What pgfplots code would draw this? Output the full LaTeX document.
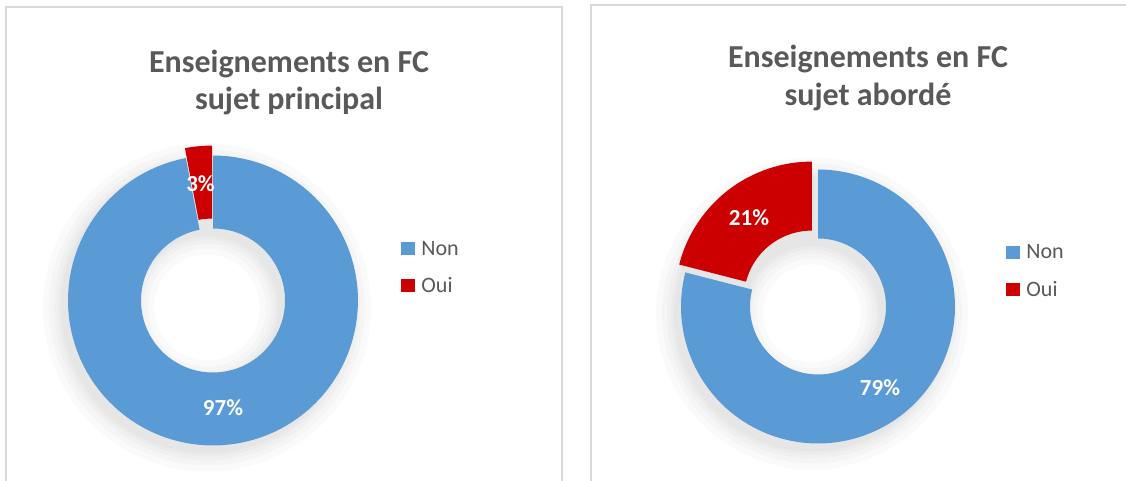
\documentclass[border=0pt]{standalone}
\usepackage{fontspec}
\setmainfont{Carlito}
\usepackage{pgfplots}
\pgfplotsset{compat=1.18}
\usepgfplotslibrary{fillbetween}

\definecolor{nonblue}{HTML}{5B9BD5}
\definecolor{ouired}{HTML}{CC0000}
\definecolor{txtgrey}{HTML}{595959}
\definecolor{framegrey}{HTML}{D9D9D9}

% one ring segment: name, cx, cy, R, r, from angle, to angle, colour
\newcommand{\ringslice}[8]{%
  \addplot[draw=none, name path=#1o, domain=#6:#7, samples=120, variable=\t]
    ({#2+#4*cos(t)}, {#3-#4*sin(t)});
  \addplot[draw=none, name path=#1i, domain=#6:#7, samples=120, variable=\t]
    ({#2+#5*cos(t)}, {#3-#5*sin(t)});
  \addplot[fill=#8, draw=none] fill between[of=#1o and #1i];
}
% soft shadow layer: name, cx, cy, R, r
\newcommand{\ringshadow}[5]{%
  \addplot[draw=none, name path=#1o, domain=0:360, samples=90, variable=\t]
    ({#2+#4*cos(t)}, {#3-#4*sin(t)});
  \addplot[draw=none, name path=#1i, domain=0:360, samples=90, variable=\t]
    ({#2+#5*cos(t)}, {#3-#5*sin(t)});
  \addplot[fill=black, fill opacity=0.018, draw=none] fill between[of=#1o and #1i];
}

\begin{document}
\begin{tikzpicture}
\begin{axis}[
    width=563pt, height=240.5pt, scale only axis,
    xmin=0, xmax=1126, ymin=0, ymax=481,
    y dir=reverse,
    hide axis,
]
% panel frames
\draw[framegrey, line width=0.8pt] (axis cs:6,481) -- (axis cs:6,7) -- (axis cs:562,7) -- (axis cs:562,481);
\draw[framegrey, line width=0.8pt] (axis cs:591,481) -- (axis cs:591,5) -- (axis cs:1126,5);

% shadows (offset to lower left)
\ringshadow{sa1}{207}{307.5}{146}{71}
\ringshadow{sa2}{207}{307.5}{149}{68}
\ringshadow{sa3}{207}{307.5}{153}{64}
\ringshadow{sa4}{207}{307.5}{158}{59}
\ringshadow{sa5}{207}{307.5}{164}{53}
\ringshadow{sc1}{812}{313.5}{138}{67}
\ringshadow{sc2}{812}{313.5}{141}{64}
\ringshadow{sc3}{812}{313.5}{145}{60}
\ringshadow{sc4}{812}{313.5}{150}{55}
\ringshadow{sc5}{812}{313.5}{156}{49}

% left donut: Non 97, Oui 3 (Oui pulled out)
\ringslice{a}{213}{300.5}{145}{72}{90-3.6*97}{90}{nonblue}
\ringslice{b}{212.1}{290.6}{145}{72}{90}{90+3.6*3}{ouired}

% right donut: Non 79, Oui 21 (Oui pulled out)
\ringslice{c}{818}{306.5}{137}{68}{90-3.6*79}{90}{nonblue}
\ringslice{d}{811.9}{298.6}{137}{68}{90}{90+3.6*21}{ouired}

% slice labels
\node[white, font=\bfseries\fontsize{11.5}{13}\selectfont] at (axis cs:223,408) {97\%};
\node[white, font=\bfseries\fontsize{11.5}{13}\selectfont] at (axis cs:200.5,184) {3\%};
\node[white, font=\bfseries\fontsize{11.5}{13}\selectfont] at (axis cs:880,388) {79\%};
\node[white, font=\bfseries\fontsize{11.5}{13}\selectfont] at (axis cs:749,218) {21\%};

% titles
\node[txtgrey, font=\bfseries\fontsize{16}{19}\selectfont, anchor=base] at (axis cs:289,73) {Enseignements en FC};
\node[txtgrey, font=\bfseries\fontsize{16}{19}\selectfont, anchor=base] at (axis cs:289,110) {sujet principal};
\node[txtgrey, font=\bfseries\fontsize{16}{19}\selectfont, anchor=base] at (axis cs:868,68) {Enseignements en FC};
\node[txtgrey, font=\bfseries\fontsize{16}{19}\selectfont, anchor=base] at (axis cs:868,106) {sujet abordé};

% legends
\fill[nonblue] (axis cs:401,242) rectangle (axis cs:415,255);
\fill[ouired] (axis cs:401,279.5) rectangle (axis cs:415,292.5);
\node[txtgrey, font=\fontsize{11}{13}\selectfont, anchor=base west, inner sep=0pt] at (axis cs:421,256) {Non};
\node[txtgrey, font=\fontsize{11}{13}\selectfont, anchor=base west, inner sep=0pt] at (axis cs:421,293) {Oui};
\fill[nonblue] (axis cs:1006,246) rectangle (axis cs:1020,259);
\fill[ouired] (axis cs:1006,283.5) rectangle (axis cs:1020,296.5);
\node[txtgrey, font=\fontsize{11}{13}\selectfont, anchor=base west, inner sep=0pt] at (axis cs:1026,259) {Non};
\node[txtgrey, font=\fontsize{11}{13}\selectfont, anchor=base west, inner sep=0pt] at (axis cs:1026,297) {Oui};
\end{axis}
\end{tikzpicture}
\end{document}
